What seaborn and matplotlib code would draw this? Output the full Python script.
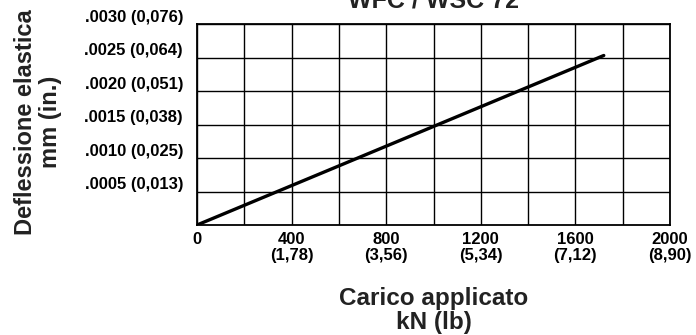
import numpy as np
import pandas as pd
import matplotlib
matplotlib.use("Agg")
import matplotlib.pyplot as plt
import matplotlib.transforms as mtransforms
import seaborn as sns

# data
load = [0, 1720]              # applied load
deflection = [0, 0.00253]     # elastic deflection (in.)

x_ticks = [0, 400, 800, 1200, 1600, 2000]
x_labels = ["0", "400\n(1,78)", "800\n(3,56)", "1200\n(5,34)", "1600\n(7,12)", "2000\n(8,90)"]
x_grid = [200, 600, 1000, 1400, 1800]

y_ticks = [0.0005, 0.0010, 0.0015, 0.0020, 0.0025, 0.0030]
y_labels = [".0005 (0,013)", ".0010 (0,025)", ".0015 (0,038)",
            ".0020 (0,051)", ".0025 (0,064)", ".0030 (0,076)"]

title = "WFC / WSC 72"

sns.set_theme(style="white")
plt.rcParams["font.family"] = ["Liberation Sans", "DejaVu Sans"]
plt.rcParams["font.weight"] = "bold"

df = pd.DataFrame({"load": load, "deflection": deflection})

fig = plt.figure(figsize=(6.96, 3.35), dpi=100)
ax = fig.add_axes([197 / 696, 1 - 225 / 335, 473 / 696, 201 / 335])

sns.lineplot(data=df, x="load", y="deflection", color="black", lw=2.4, ax=ax)

ax.set_xlim(0, 2000)
ax.set_ylim(0, 0.0030)

ax.set_xticks(x_ticks)
ax.set_xticklabels(x_labels, fontsize=12, fontweight="bold", color="black",
                   linespacing=1.1)
ax.set_xticks(x_grid, minor=True)
ax.set_yticks(y_ticks)
ax.set_yticklabels(y_labels, fontsize=12, fontweight="bold", color="black")
ax.tick_params(axis="both", which="both", length=0, color="black")
ax.tick_params(axis="x", pad=5)
ax.tick_params(axis="y", pad=10)

# lift y labels a little above their gridlines
offset = mtransforms.ScaledTranslation(0, 6 / 72, fig.dpi_scale_trans)
for lab in ax.get_yticklabels():
    lab.set_transform(lab.get_transform() + offset)

ax.grid(True, which="both", color="black", lw=1.0)
for sp in ax.spines.values():
    sp.set_color("black")
    sp.set_linewidth(1.3)

ax.set_xlabel("Carico applicato\nkN (lb)", fontsize=17.5, fontweight="bold",
              color="#222222", linespacing=1.05)
ax.xaxis.set_label_coords(0.5, -0.31)
ax.set_ylabel("")

fig.text(38 / 696, 1 - 122 / 335, "Deflessione elastica\nmm (in.)", rotation=90,
         ha="center", va="center", fontsize=17, fontweight="bold",
         color="#222222", linespacing=1.1, multialignment="center")
fig.text((197 + 670) / 2 / 696, 1 - 8 / 335, title, ha="center", va="baseline",
         fontsize=18, fontweight="bold", color="#222222")

fig.savefig("out.png", dpi=100)
